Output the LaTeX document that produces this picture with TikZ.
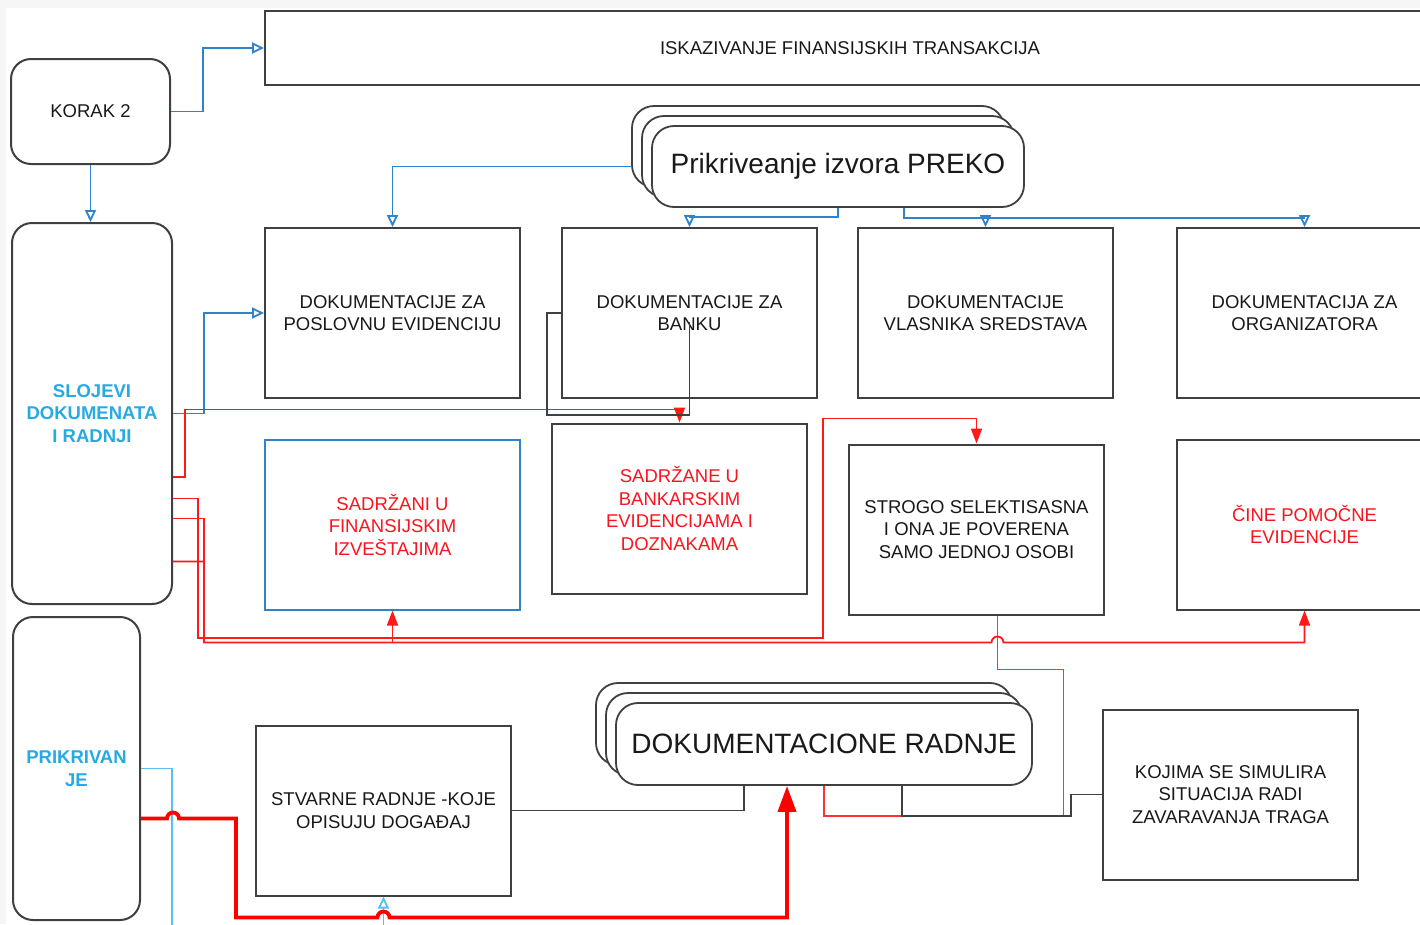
\documentclass[tikz,border=0pt]{standalone}
\usepackage{fontspec}
\setmainfont{Liberation Sans}
\usepackage{xcolor}
\usetikzlibrary{arrows.meta, calc}
\definecolor{linegray}{RGB}{64,64,64}
\definecolor{inkblack}{RGB}{25,25,25}
\definecolor{wireblue}{RGB}{46,132,204}
\definecolor{textblue}{RGB}{38,170,228}
\definecolor{wirecyan}{RGB}{90,190,240}
\definecolor{redink}{RGB}{250,20,30}
\newcommand{\boxfont}{\fontsize{18.5}{22.5}\selectfont}
\newcommand{\bigfont}{\fontsize{28}{32}\selectfont}

\begin{document}
\begin{tikzpicture}[x=1pt, y=-1pt,
	docbox/.style={draw=linegray, line width=2pt, minimum width=255pt, minimum height=170pt, inner sep=2pt, align=center, font=\boxfont, text=inkblack},
	sidebox/.style={docbox, rounded corners=20pt},
	stackbox/.style={draw=linegray, line width=1.8pt, fill=white, rounded corners=22pt, inner sep=0pt, font=\bigfont, text=inkblack},
	prekostack/.style={stackbox, minimum width=372pt, minimum height=81pt},
	radnjestack/.style={stackbox, minimum width=416pt, minimum height=82pt},
	blueline/.style={draw=wireblue, line width=1.8pt},
	cyanline/.style={draw=wirecyan, line width=1.8pt},
	redline/.style={draw=red!90!white, line width=1.8pt},
	pinkline/.style={draw=red!80!white, line width=1.8pt},
	darkline/.style={draw=linegray, line width=1.8pt},
	thickred/.style={draw=red, line width=3.8pt},
	openarrow/.style={-{Triangle[open, length=12pt, width=11pt]}},
	redarrow/.style={-{Triangle[length=15pt, width=11pt]}},
	bigarrow/.style={-{Triangle[length=26pt, width=18pt]}}]
	\useasboundingbox (0,0) rectangle (1420,924);
	\clip (0,0) rectangle (1420,924);
	\fill [gray!7] (0,0) rectangle (1420,924);
	\fill [white] (6,8) rectangle (1420,924);

	\node [sidebox, minimum width=159pt, minimum height=105pt] (korak) at (90.5,111.5) {KORAK 2};
	\node [docbox, minimum width=1170pt, minimum height=74pt] (iskaz) at (850,48) {ISKAZIVANJE FINANSIJSKIH TRANSAKCIJA};
	\node [sidebox, minimum width=160pt, minimum height=381pt, text=textblue, font=\boxfont\bfseries] (slojevi) at (92,413.5) {SLOJEVI\\DOKUMENATA\\I RADNJI};
	\node [sidebox, minimum width=127pt, minimum height=303pt, text=textblue, font=\boxfont\bfseries] (prikr) at (76.5,768.5) {PRIKRIVAN\\JE};

	\node [prekostack] (prekoC) at (818,146.5) {};
	\node [prekostack] (prekoB) at (828,156.5) {};
	\node [prekostack] (preko) at (838,166.5) {Prikriveanje izvora PREKO};

	\node [docbox] (b1) at (392.5,313) {DOKUMENTACIJE ZA\\POSLOVNU EVIDENCIJU};
	\node [docbox] (b2) at (689.5,313) {DOKUMENTACIJE ZA\\BANKU};
	\node [docbox] (b3) at (985.5,313) {DOKUMENTACIJE\\VLASNIKA SREDSTAVA};
	\node [docbox] (b4) at (1304.5,313) {DOKUMENTACIJA ZA\\ORGANIZATORA};

	\node [docbox, draw=wireblue, text=redink] (c1) at (392.5,524.5) {SADRŽANI U\\FINANSIJSKIM\\IZVEŠTAJIMA};
	\node [docbox, text=redink] (c2) at (679.5,508.5) {SADRŽANE U\\BANKARSKIM\\EVIDENCIJAMA I\\DOZNAKAMA};
	\node [docbox] (c3) at (976.5,529.5) {STROGO SELEKTISASNA\\I ONA JE POVERENA\\SAMO JEDNOJ OSOBI};
	\node [docbox, text=redink] (c4) at (1304.5,524.5) {ČINE POMOČNE\\EVIDENCIJE};

	\node [radnjestack] (radnjeC) at (804,724) {};
	\node [radnjestack] (radnjeB) at (814,734) {};
	\node [radnjestack] (radnje) at (824,744) {DOKUMENTACIONE RADNJE};

	\node [docbox] (d1) at (383.5,810.5) {STVARNE RADNJE -KOJE\\OPISUJU DOGAĐAJ};
	\node [docbox] (e1) at (1230.5,794.5) {KOJIMA SE SIMULIRA\\SITUACIJA RADI\\ZAVARAVANJA TRAGA};

	% plave veze
	\draw [blueline, openarrow] (korak.east) -- ++(32,0) |- (iskaz.west);
	\draw [blueline, openarrow] (korak.south) -- (korak.south |- slojevi.north);
	\draw [blueline, openarrow] (prekoC.west |- preko.west) -| (b1.north);
	\draw [blueline, openarrow] (preko.south) -- ++(0,9) -| (b2.north);
	\coordinate (bus) at ($(preko.south)+(66,10)$);
	\draw [blueline, openarrow] (preko.south -| bus) -- (bus) -| (b4.north);
	\draw [blueline, openarrow] (bus -| b3.north) -- (b3.north);
	\draw [blueline, openarrow] (slojevi.east) -- ++(31,0) |- (b1.west);

	% crvene veze
	\draw [redline, redarrow] ($(slojevi.east)+(0,63.5)$) -- ++(12,0) |- ($(c2.north)+(0,-13)$) -- (c2.north);
	\draw [darkline] (b2.west) -- ++(-14,0) |- ($(b2.south)+(0,16)$) -- ($(b2.center)+(0,9)$);
	\coordinate (turn) at (823,638);
	\draw [redline, redarrow] ($(slojevi.east)+(0,85)$) -- ++(25,0) |- (turn) |- ($(c3.north)+(0,-25)$) -- (c3.north);
	\draw [redline, redarrow] ($(slojevi.east)+(0,105)$) -- ++(31,0) |- ($(c1.south)+(0,32)$) -- (c1.south);
	\coordinate (c3out) at ($(c3.south)+(21,0)$);
	\coordinate (redbend) at ($(c3out)+(66,54)$);
	\draw [pinkline] (c3out) |- (redbend) |- ($(radnje.south)+(0,30)$) -- (radnje.south);
	\draw [redline, redarrow] ($(slojevi.east)+(0,148)$) -- ++(31,0) |- ($(c3out)+(-6,27)$) arc [start angle=180, end angle=0, radius=6pt] -| (c4.south);

	% donji red
	\draw [darkline] ($(radnje.south)+(78,0)$) -- ++(0,30) -- ++(169,0) |- (e1.west);
	\draw [darkline] (d1.east) -| ($(radnje.south)+(-80,0)$);
	\coordinate (cyanend) at (172,935);
	\draw [cyanline] (prikr.east) -| (cyanend);
	\draw [cyanline, openarrow] (d1.south |- cyanend) -- (d1.south);
	\draw [thickred, bigarrow] ($(prikr.east)+(0,50)$) -- ++(26,0) arc [start angle=180, end angle=0, radius=6pt] -- ++(57,0) |- ($(d1.south)+(-6,21)$) arc [start angle=180, end angle=0, radius=6pt] -| ($(radnje.south)+(-37,0)$);
\end{tikzpicture}
\end{document}
